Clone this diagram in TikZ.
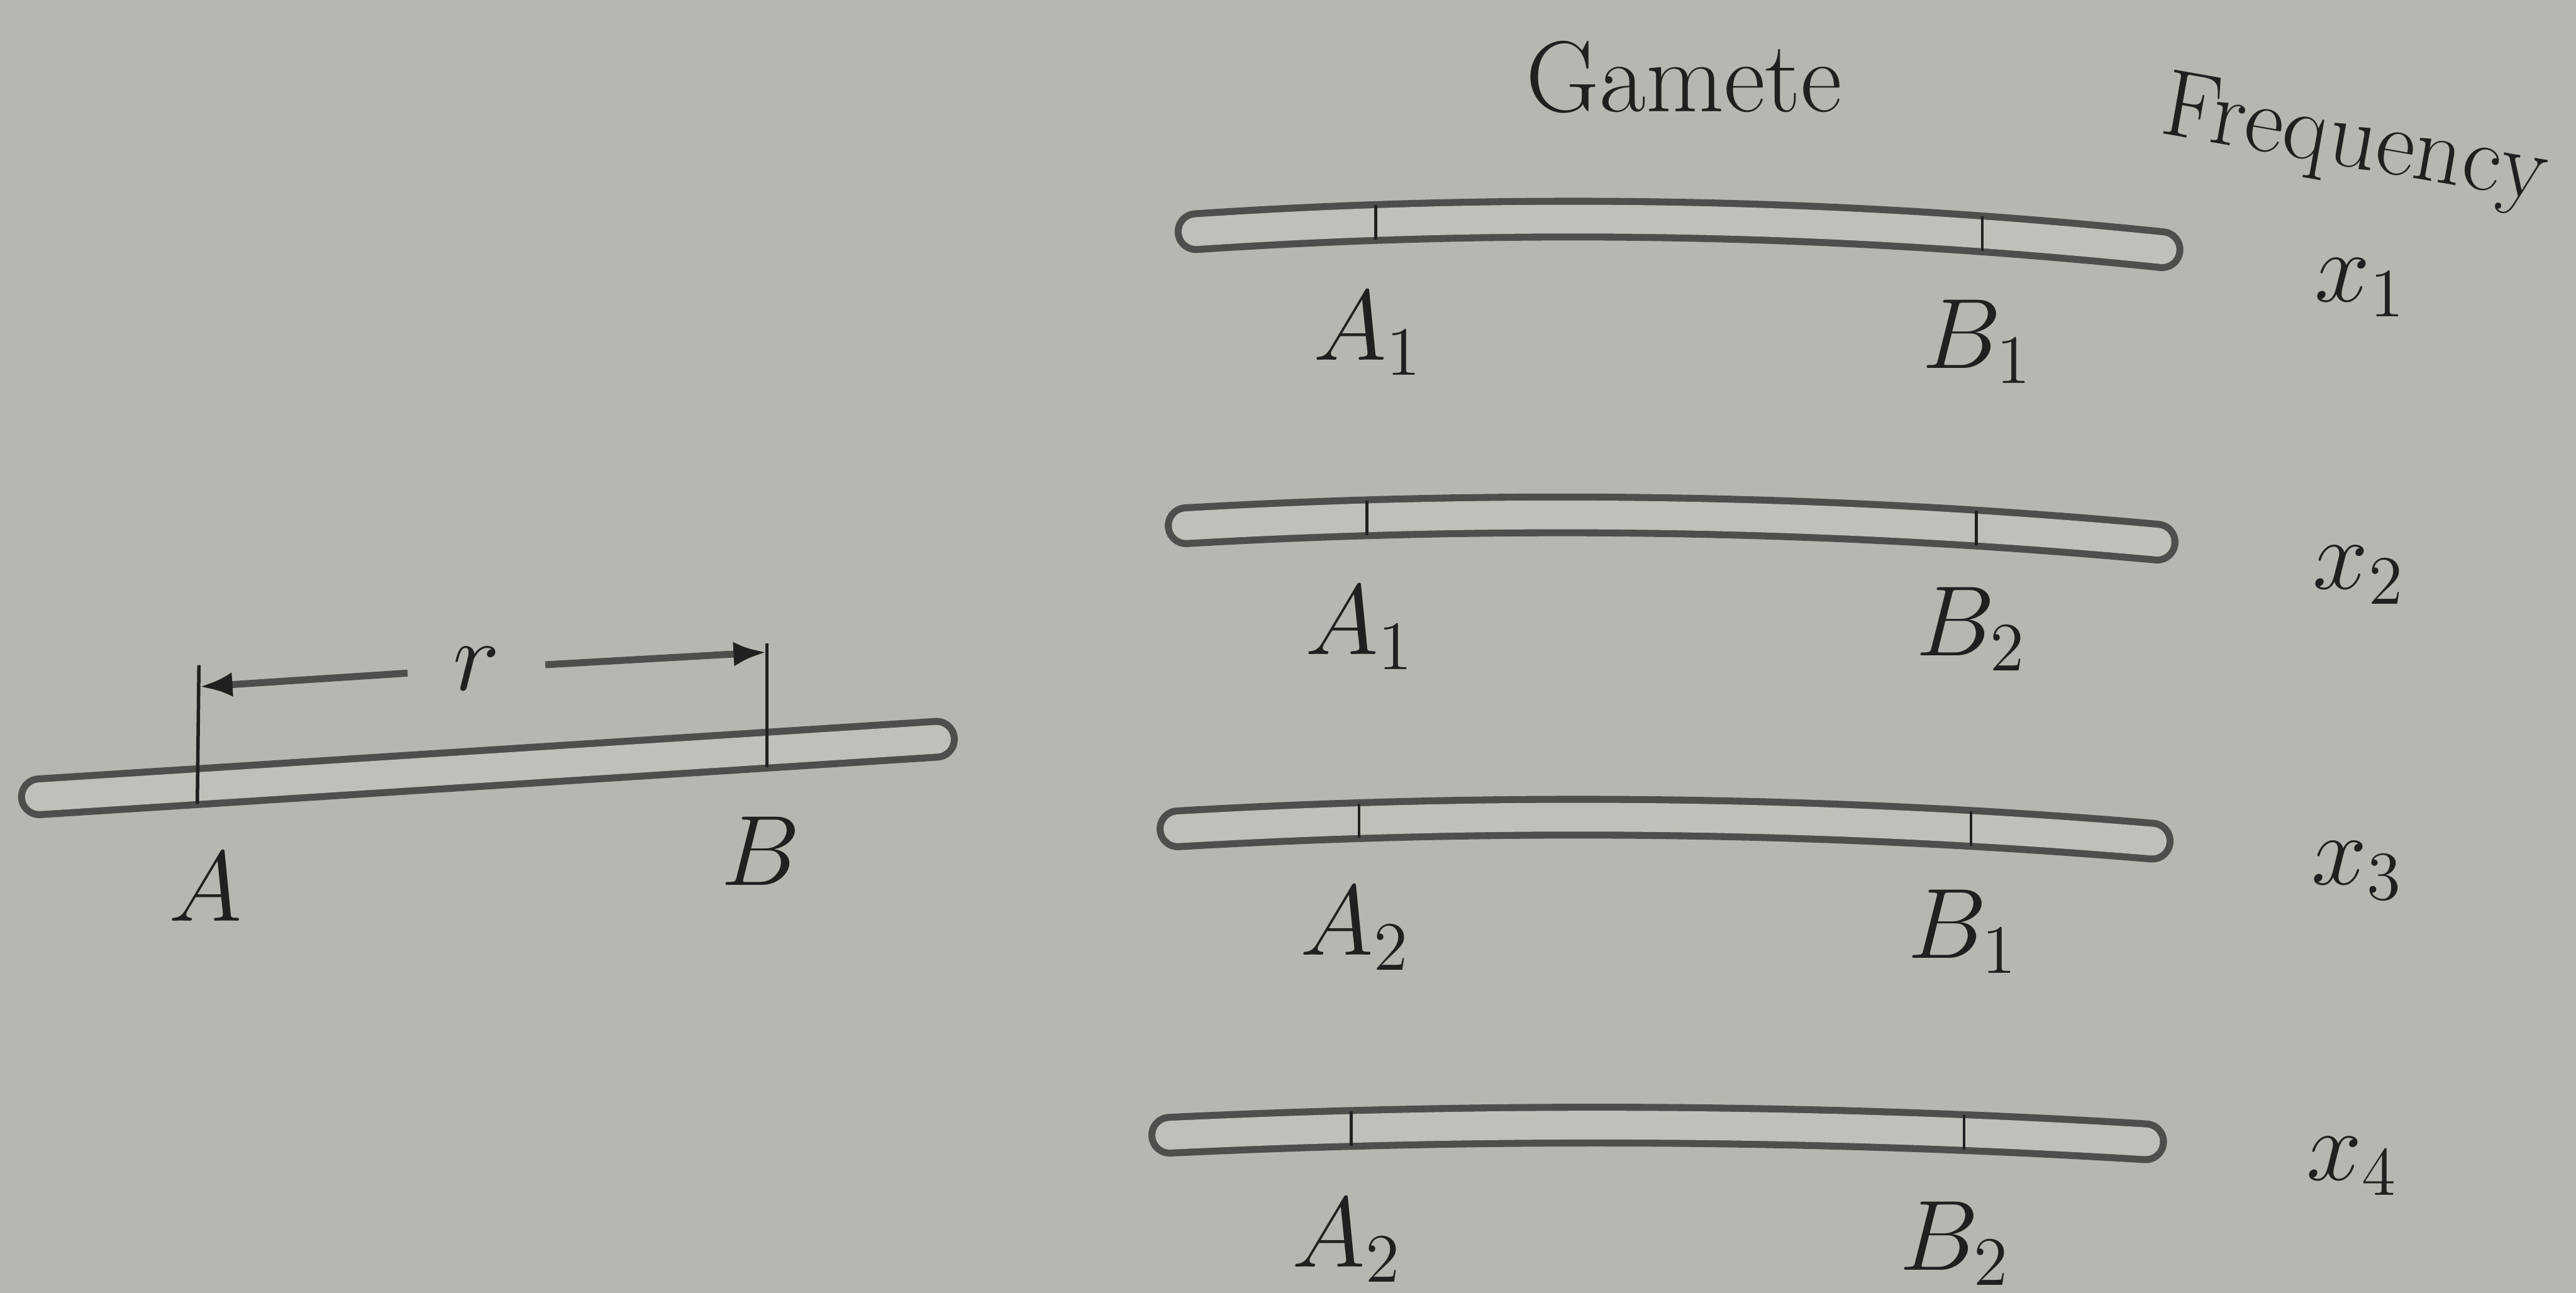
\documentclass[tikz,border=0pt]{standalone}
\usetikzlibrary{calc,arrows.meta}
\definecolor{paper}{RGB}{184,182,176}
\definecolor{barin}{RGB}{193,191,185}
\definecolor{ink}{RGB}{32,32,32}
\definecolor{outl}{RGB}{78,78,76}
\tikzset{
  lbl/.style={inner sep=0pt, text=ink, font=\fontsize{16.5}{20}\selectfont},
  barout/.style={outl, line width=2.6mm, line cap=round},
  barinner/.style={barin, line width=1.75mm, line cap=round},
  allele/.style={ink, line width=0.5pt},
  dimline/.style={outl, line width=1.2pt, -{Latex[length=2mm,width=1.5mm,color=ink]}}
}
% #1 name, #2 left x, #3 left y, #4 right x, #5 right y, #6 offset of controls
\newcommand\chromo[6]{%
  \coordinate (#1L) at (#2,#3);
  \coordinate (#1R) at (#4,#5);
  \coordinate (#1c1) at ($(#1L)!1/3!(#1R)+(0,#6)$);
  \coordinate (#1c2) at ($(#1L)!2/3!(#1R)+(0,#6)$);
  \draw[barout] (#1L) .. controls (#1c1) and (#1c2) .. (#1R);
  \draw[barinner] (#1L) .. controls (#1c1) and (#1c2) .. (#1R);
  \path (#1L) .. controls (#1c1) and (#1c2) .. (#1R)
     coordinate[pos=0.186] (#1a) coordinate[pos=0.814] (#1b);
  \draw[allele] ($(#1a)+(0,0.105)$) -- ($(#1a)+(0,-0.105)$);
  \draw[allele] ($(#1b)+(0,0.105)$) -- ($(#1b)+(0,-0.105)$);
}
\begin{document}
\begin{tikzpicture}
\useasboundingbox (0,0) rectangle (15.68,7.87);
\fill[paper] (0,0) rectangle (15.68,7.87);

% left chromosome
\coordinate (L0) at (0.24,3.02);
\coordinate (R0) at (5.70,3.37);
\draw[barout] (L0) -- (R0);
\draw[barinner] (L0) -- (R0);
\path (L0) -- (R0) coordinate[pos=0.176] (pa) coordinate[pos=0.811] (pb);
\coordinate (topA) at ($(pa)+(0.01,0.74)$);
\coordinate (topB) at ($(pb)+(0,0.65)$);
\draw[allele, line width=0.6pt] ($(pa)+(0,-0.105)$) -- (topA);
\draw[allele, line width=0.6pt] ($(pb)+(0,-0.105)$) -- (topB);
\coordinate (tipA) at (1.215,3.69);
\coordinate (tipB) at (4.665,3.90);
\node[lbl, inner xsep=0.27cm] (r) at (2.90,3.80) {$r$};
\draw[dimline] (r) -- (tipA);
\draw[dimline] (r) -- (tipB);
\node[lbl] (labA) at (1.25,2.47) {$A$};
\node[lbl] (labB) at (4.63,2.69) {$B$};

% headers
\node[lbl, font=\fontsize{17.5}{21}\selectfont] (gam) at (10.25,7.40) {Gamete};
\node[lbl, rotate=-10] (freq) at (14.33,6.99) {Frequency};

% gamete chromosomes
\chromo{g1}{7.28}{6.46}{13.16}{6.35}{0.167}
\chromo{g2}{7.22}{4.67}{13.13}{4.57}{0.147}
\chromo{g3}{7.17}{2.825}{13.10}{2.75}{0.14}
\chromo{g4}{7.12}{0.96}{13.06}{0.92}{0.107}

\node[lbl] (a1) at (8.33,5.84) {$A_1$};
\node[lbl] (b1) at (12.04,5.79) {$B_1$};
\node[lbl] (a2) at (8.28,4.05) {$A_1$};
\node[lbl] (b2) at (12.00,4.04) {$B_2$};
\node[lbl] (a3) at (8.25,2.22) {$A_2$};
\node[lbl] (b3) at (11.95,2.20) {$B_1$};
\node[lbl] (a4) at (8.20,0.32) {$A_2$};
\node[lbl] (b4) at (11.90,0.30) {$B_2$};

\node[lbl] (x1) at (14.37,6.12) {$x_1$};
\node[lbl] (x2) at (14.36,4.37) {$x_2$};
\node[lbl] (x3) at (14.35,2.57) {$x_3$};
\node[lbl] (x4) at (14.32,0.77) {$x_4$};
\end{tikzpicture}
\end{document}
